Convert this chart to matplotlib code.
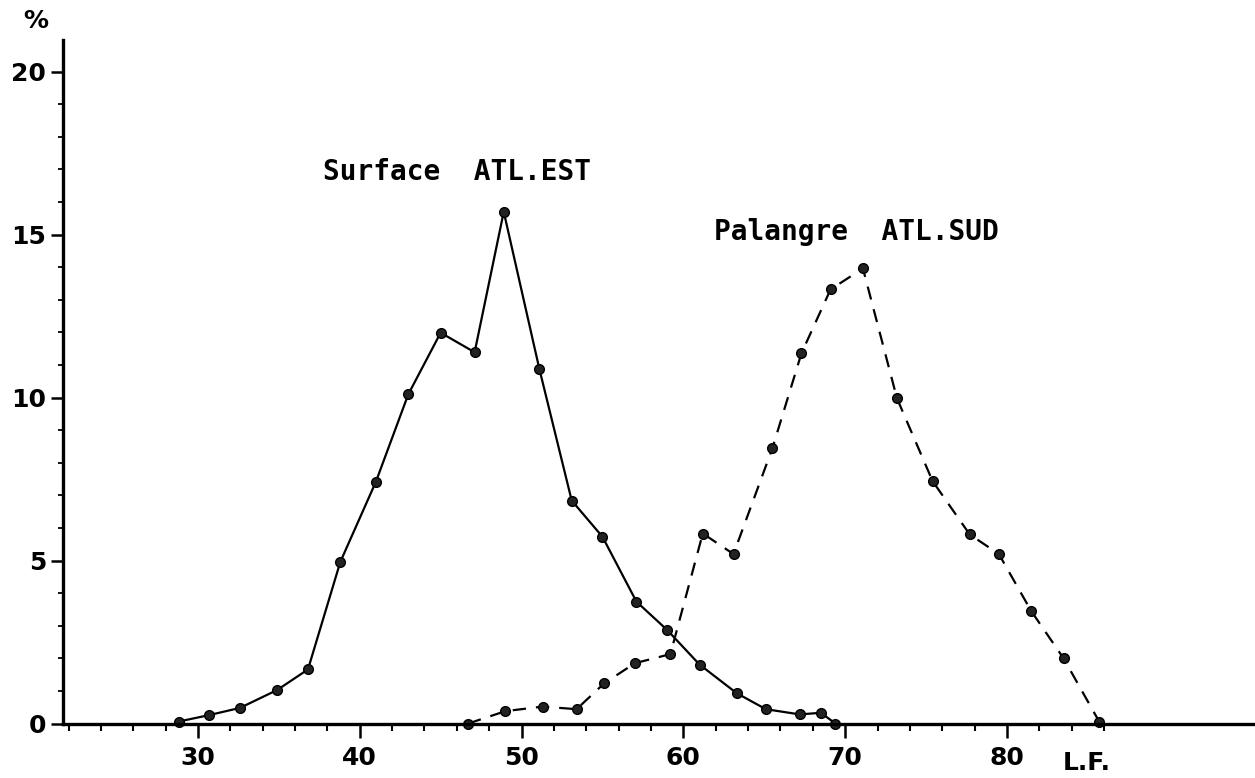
import matplotlib
matplotlib.use("Agg")
import matplotlib.pyplot as plt
from matplotlib.ticker import FixedLocator

# Surface ATL.EST (solid line)
surface_x = [28.8, 30.7, 32.6, 34.9, 36.8, 38.8, 41.0, 43.0, 45.0, 47.1, 48.9,
             51.1, 53.1, 55.0, 57.1, 59.0, 61.0, 63.3, 65.1, 67.2, 68.5, 69.4]
surface_y = [0.06, 0.26, 0.48, 1.03, 1.66, 4.96, 7.42, 10.1, 11.99, 11.39, 15.7,
             10.88, 6.84, 5.73, 3.74, 2.87, 1.81, 0.93, 0.44, 0.28, 0.33, 0.0]

# Palangre ATL.SUD (dashed line)
palangre_x = [46.7, 49.0, 51.3, 53.4, 55.1, 57.0, 59.2, 61.2, 63.1, 65.5, 67.3,
              69.1, 71.1, 73.2, 75.4, 77.7, 79.5, 81.5, 83.5, 85.7]
palangre_y = [0.0, 0.38, 0.52, 0.44, 1.23, 1.85, 2.13, 5.83, 5.2, 8.44, 11.36,
              13.32, 13.96, 9.98, 7.44, 5.8, 5.2, 3.45, 2.0, 0.06]

x_major = [30, 40, 50, 60, 70, 80]
x_minor = [v for v in range(22, 88, 2) if v not in x_major]
y_major = [0, 5, 10, 15, 20]
y_minor = list(range(0, 21))

label_surface = "Surface  ATL.EST"
label_palangre = "Palangre  ATL.SUD"

fig = plt.figure(figsize=(12.55, 7.78), dpi=100)
ax = fig.add_axes([0.0502, 0.070, 0.9498, 0.8786])
ax.set_xlim(21.66, 95.33)
ax.set_ylim(0, 20.97)

ax.plot(surface_x, surface_y, color="black", lw=1.6, marker="o", ms=7,
        markerfacecolor="#222222", markeredgecolor="black", clip_on=False)
ax.plot(palangre_x, palangre_y, color="black", lw=1.6, dashes=[6, 4.5],
        marker="o", ms=7, markerfacecolor="#222222", markeredgecolor="black",
        clip_on=False)

for s in ["top", "right"]:
    ax.spines[s].set_visible(False)
ax.spines["left"].set_linewidth(2.4)
ax.spines["bottom"].set_linewidth(2.4)

ax.xaxis.set_major_locator(FixedLocator(x_major))
ax.xaxis.set_minor_locator(FixedLocator(x_minor))
ax.yaxis.set_major_locator(FixedLocator(y_major))
ax.yaxis.set_minor_locator(FixedLocator(y_minor))
ax.tick_params(axis="x", which="major", direction="out", length=10, width=1.8,
               labelsize=18, pad=6)
ax.tick_params(axis="x", which="minor", direction="out", length=5, width=1.5)
ax.tick_params(axis="y", which="major", direction="out", length=9, width=1.8,
               labelsize=18, pad=3)
ax.tick_params(axis="y", which="minor", direction="out", length=3.5, width=1.3)
for lab in ax.get_xticklabels() + ax.get_yticklabels():
    lab.set_fontweight("bold")

mono = "DejaVu Sans Mono"
ax.text(46.0, 16.92, label_surface, fontsize=20, fontweight="bold",
        family=mono, ha="center", va="center")
ax.text(70.67, 15.08, label_palangre, fontsize=20, fontweight="bold",
        family=mono, ha="center", va="center")

fig.text(36 / 1255, 1 - 21 / 778, "%", fontsize=18, fontweight="bold",
         ha="center", va="center")
fig.text(1087 / 1255, 1 - 763 / 778, "L.F.", fontsize=18, fontweight="bold",
         ha="center", va="center")

fig.savefig("out.png", dpi=100, facecolor="white")
